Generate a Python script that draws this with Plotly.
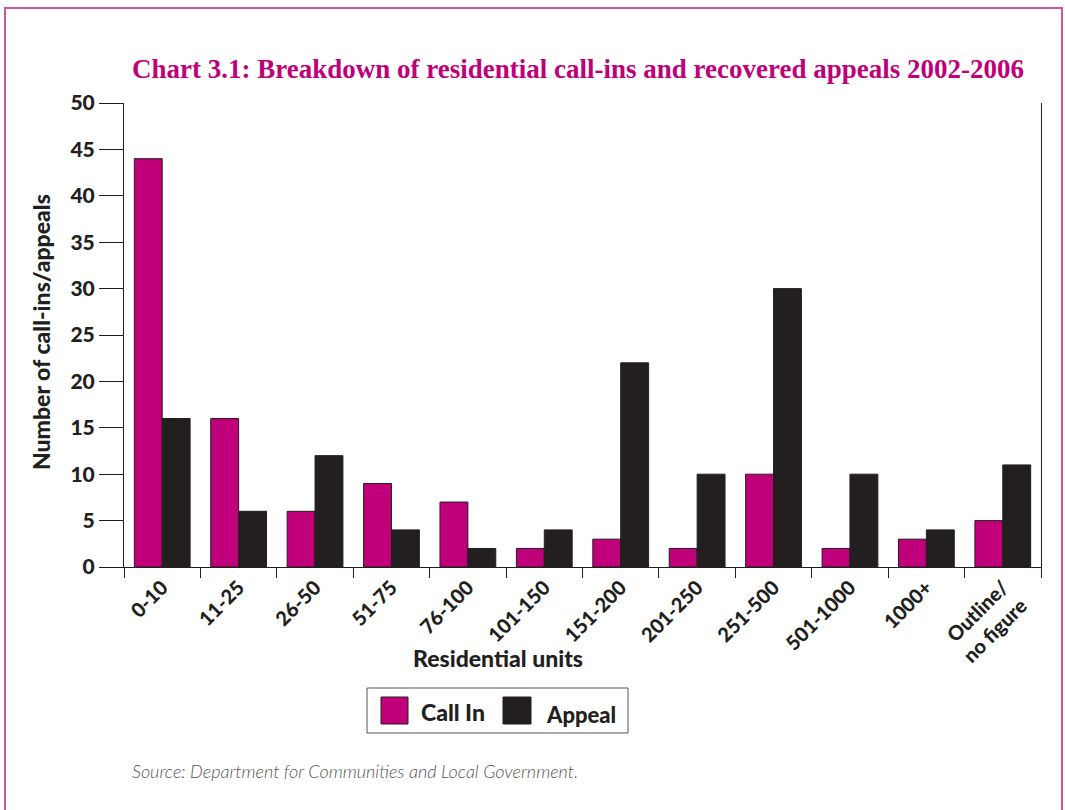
import plotly.graph_objects as go

# data
categories = ["0-10", "11-25", "26-50", "51-75", "76-100", "101-150", "151-200",
              "201-250", "251-500", "501-1000", "1000+", "Outline/<br>no figure"]
call_in = [44, 16, 6, 9, 7, 2, 3, 2, 10, 2, 3, 5]
appeal = [16, 6, 12, 4, 2, 4, 22, 10, 30, 10, 4, 11]
series_names = ["Call In", "Appeal"]
grid_vals = [5, 10, 15, 20, 25, 30, 35, 40, 45]

MAGENTA = "#c0007a"
BLACK = "#231f20"
BORDER = "#cf55a6"
FONT = "Lato"
HEAVY = 900

# plot area in window pixels
L, R, T, B = 124, 1041, 103, 567
W, H = 1065, 810


def px(x):
    return (x - L) / (R - L)


def py(y):
    return (B - y) / (B - T)


fig = go.Figure()
fig.add_trace(go.Bar(x=categories, y=call_in, name=series_names[0],
                     marker=dict(color=MAGENTA, line=dict(color=BLACK, width=1))))
fig.add_trace(go.Bar(x=categories, y=appeal, name=series_names[1],
                     marker=dict(color=BLACK, line=dict(color=BLACK, width=1))))

fig.update_layout(
    width=W, height=H,
    margin=dict(l=L, r=W - R, t=T, b=H - B, autoexpand=False),
    paper_bgcolor="white", plot_bgcolor="white",
    barmode="group", bargap=0.27, bargroupgap=0,
    showlegend=False,
    font=dict(family=FONT, color=BLACK),
    xaxis=dict(
        showline=True, linecolor=BLACK, linewidth=1,
        ticks="outside", tickson="boundaries", ticklen=10, tickcolor=BLACK,
        tickangle=-45, tickfont=dict(size=20, family=FONT, weight=HEAVY),
        showgrid=False, automargin=False,
    ),
    yaxis=dict(
        range=[0, 50], dtick=5, showline=True, mirror=True, linecolor=BLACK,
        ticks="outside", ticklen=24, tickcolor=BLACK,
        tickfont=dict(size=21, family=FONT, weight=HEAVY),
        showgrid=False, zeroline=False, automargin=False,
    ),
    yaxis2=dict(
        overlaying="y", range=[0, 50], tickvals=grid_vals, showticklabels=False,
        showgrid=True, gridcolor="#2a2a2a", gridwidth=1, zeroline=False,
        showline=False, ticks="",
    ),
)

annotations = [
    dict(text="Chart 3.1: Breakdown of residential call-ins and recovered appeals 2002-2006",
         x=px(130), y=py(69), xanchor="left", yanchor="middle", showarrow=False,
         font=dict(family="Liberation Serif", size=27, color=MAGENTA, weight="bold")),
    dict(text="Number of call-ins/appeals", textangle=-90,
         x=px(41), y=py(332), xanchor="center", yanchor="middle", showarrow=False,
         font=dict(size=23, weight=HEAVY)),
    dict(text="Residential units", x=px(498), y=py(658), xanchor="center", yanchor="middle",
         showarrow=False, font=dict(size=23, weight=HEAVY)),
    dict(text="Source: Department for Communities and Local Government.",
         x=px(130), y=py(771), xanchor="left", yanchor="middle", showarrow=False,
         font=dict(size=18, style="italic", weight=300, color="#555555")),
    dict(text=series_names[0], x=px(419), y=py(712), xanchor="left", yanchor="middle",
         showarrow=False, font=dict(size=23, weight=HEAVY)),
    dict(text=series_names[1], x=px(544), y=py(714), xanchor="left", yanchor="middle",
         showarrow=False, font=dict(size=22, weight=HEAVY)),
]
for a in annotations:
    a.update(xref="paper", yref="paper")
fig.update_layout(annotations=annotations)

shapes = [
    # page frame
    dict(type="rect", x0=px(5), x1=px(1062), y0=py(830), y1=py(8),
         line=dict(color=BORDER, width=2)),
    # legend box and swatches
    dict(type="rect", x0=px(367), x1=px(628), y0=py(733), y1=py(688),
         line=dict(color="#555555", width=1)),
    dict(type="rect", x0=px(381), x1=px(408), y0=py(724), y1=py(697),
         fillcolor=MAGENTA, line=dict(color=BLACK, width=1)),
    dict(type="rect", x0=px(503), x1=px(531), y0=py(724), y1=py(697),
         fillcolor=BLACK, line=dict(color=BLACK, width=1)),
]
for s in shapes:
    s.update(xref="paper", yref="paper", layer="above")
fig.update_layout(shapes=shapes)

# drop the default page margin so the figure fills the window exactly
fig.write_html("out.html", config={"displayModeBar": False},
               post_script="document.body.style.margin='0';document.body.style.overflow='hidden';")
